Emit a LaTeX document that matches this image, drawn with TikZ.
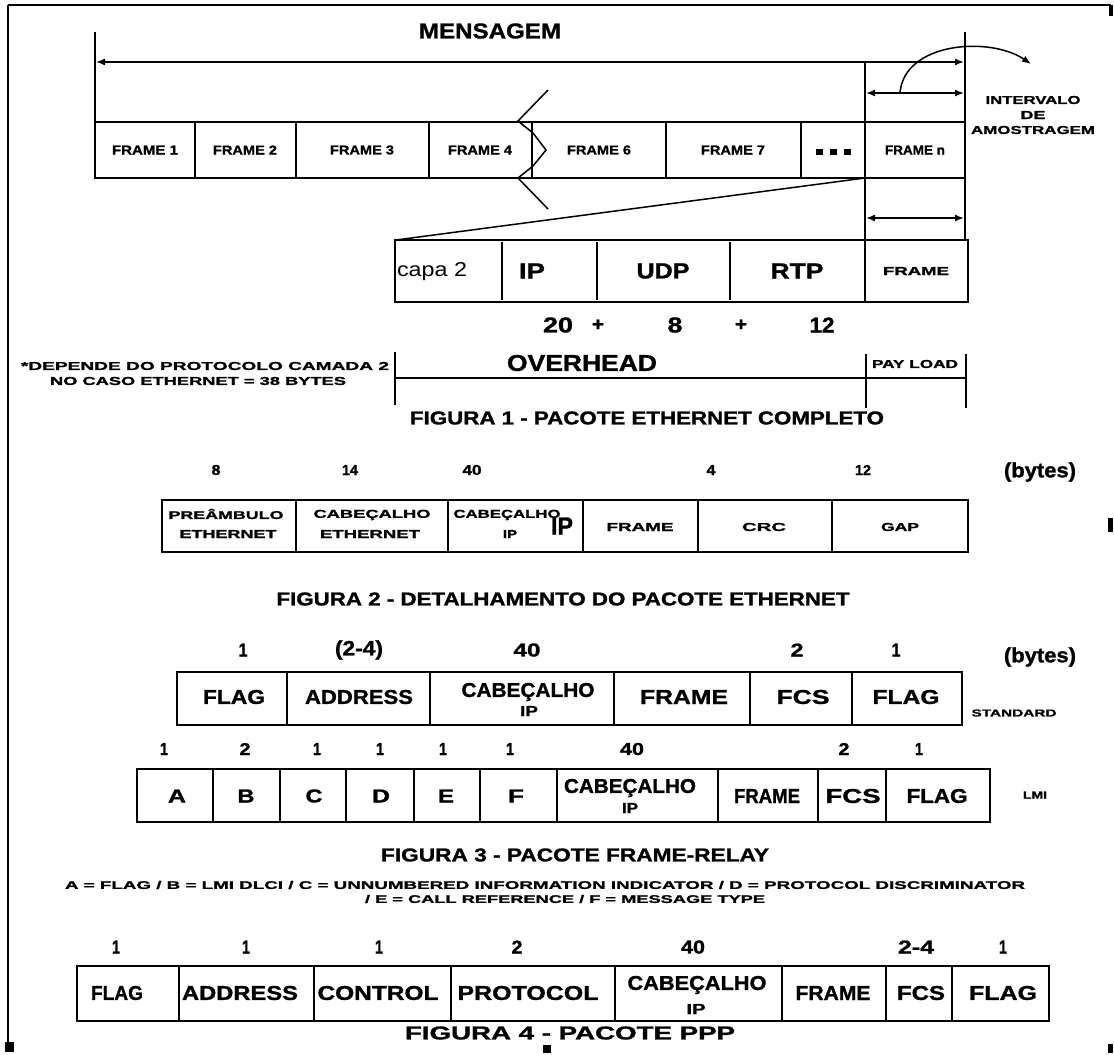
\documentclass[tikz,border=0pt]{standalone}
\usepackage{fontspec}
\setmainfont{Liberation Sans}[BoldFeatures={FakeBold=1.2}]
\usepackage{graphicx}
\usetikzlibrary{arrows.meta}
\newcommand\mylab[3]{\resizebox{#1pt}{#2pt}{\bfseries #3}}
\newcommand\mylabr[3]{\resizebox{#1pt}{#2pt}{#3}}
\begin{document}
\begin{tikzpicture}[x=1pt,y=-1pt,
  bx/.style={line width=2pt},
  ln/.style={line width=1.5pt},
  t/.style={inner sep=0pt,outer sep=0pt,anchor=center},
  arr/.style={line width=1.5pt,{Latex[length=9pt,width=7pt]}-{Latex[length=9pt,width=7pt]}},
  blk/.style={fill=black}]
\useasboundingbox (0,0) rectangle (1114,1055);
% border
\draw[line width=2pt] (8,5) -- (1111,5);
\draw[line width=2.5pt] (8,5) -- (8,1052);
\fill[blk] (1109,5) rectangle (1113,16);
\fill[blk] (1108,518) rectangle (1113,532);
\fill[blk] (5,1042) rectangle (14,1052);
\fill[blk] (543,1045) rectangle (551,1053);
\fill[blk] (1108,1044) rectangle (1113,1053);

% ================= FIGURA 1 =================
\node[t] (msg) at (490,31) {\mylab{142}{15}{MENSAGEM}};
\draw[ln] (95,32) -- (95,178);
\draw[ln] (965,32) -- (965,240);
\draw[bx] (95,122) rectangle (965,178);
\foreach \x in {195,296,429,532,666,801} \draw[bx] (\x,122) -- (\x,178);
\draw[bx] (865,62) -- (865,302);
\coordinate (mL) at (96,62); \coordinate (mR) at (964,62);
\draw[arr] (mL) -- (mR);
\coordinate (iL) at (866,93); \coordinate (iR) at (964,93);
\draw[arr] (iL) -- (iR);
\coordinate (cS) at (900,93); \coordinate (cE) at (1031,64);
\draw[ln,-{Latex[length=9pt,width=7pt]}] (cS) .. controls (904,42) and (990,36) .. (cE);
\draw[ln] (548,90) -- (518,121) -- (533,133) -- (546,150) -- (533,166) -- (518,178) -- (548,209);
\node[t] (f1) at (145,150) {\mylab{66}{9}{FRAME 1}};
\node[t] (f2) at (245,150) {\mylab{64}{9}{FRAME 2}};
\node[t] (f3) at (362,150) {\mylab{64}{9}{FRAME 3}};
\node[t] (f4) at (480,150) {\mylab{64}{9}{FRAME 4}};
\node[t] (f6) at (599,150) {\mylab{64}{9}{FRAME 6}};
\node[t] (f7) at (733,150) {\mylab{64}{9}{FRAME 7}};
\node[t] (fd) at (833,152) {\rule{7pt}{6pt}\hspace{7pt}\rule{7pt}{6pt}\hspace{7pt}\rule{7pt}{6pt}};
\node[t] (fn) at (915,150) {\mylab{60}{9}{FRAME n}};
\node[t] (iv1) at (1033,100) {\mylab{95}{8}{INTERVALO}};
\node[t] (iv2) at (1033,115) {\mylab{25}{8}{DE}};
\node[t] (iv3) at (1033,130) {\mylab{124}{8}{AMOSTRAGEM}};
% expansion
\coordinate (tA) at (865,178); \coordinate (tB) at (396,240);
\draw[ln] (tA) -- (tB);
\draw[bx] (395,240) rectangle (968,302);
\foreach \x in {502,597,730} \draw[bx] (\x,242) -- (\x,300);
\coordinate (jL) at (866,218); \coordinate (jR) at (964,218);
\draw[arr] (jL) -- (jR);
\node[t] (c2) at (432,272) {\mylabr{70}{14}{capa 2}};
\node[t] (ip) at (532,271) {\mylab{26}{15}{IP}};
\node[t] (udp) at (663,271) {\mylab{53}{15}{UDP}};
\node[t] (rtp) at (797,271) {\mylab{53}{15}{RTP}};
\node[t] (frp) at (916,271) {\mylab{66}{8}{FRAME}};
\node[t] (n20) at (558,325) {\mylab{30}{15}{20}};
\node[t] (p1) at (598,325) {\mylab{12}{11}{+}};
\node[t] (n8) at (675,325) {\mylab{15}{15}{8}};
\node[t] (p2) at (741,325) {\mylab{12}{11}{+}};
\node[t] (n12) at (822,325) {\mylab{25}{15}{12}};
% overhead
\draw[ln] (395,352) -- (395,405);
\draw[ln] (395,378) -- (966,378);
\draw[ln] (866,354) -- (866,408);
\draw[ln] (966,354) -- (966,408);
\node[t] (ovh) at (582,363) {\mylab{150}{16}{OVERHEAD}};
\node[t] (pay) at (915,364) {\mylab{86}{8}{PAY LOAD}};
\node[t,anchor=east] (nt1) at (389,366) {\mylab{368}{8}{*DEPENDE DO PROTOCOLO CAMADA 2}};
\node[t] (nt2) at (198,381) {\mylab{296}{8}{NO CASO ETHERNET = 38 BYTES}};
\node[t] (fig1) at (647,418) {\mylab{474}{13}{FIGURA 1 - PACOTE ETHERNET COMPLETO}};

% ================= FIGURA 2 =================
\draw[bx] (162,500) rectangle (968,552);
\foreach \x in {296,448,583,698,832} \draw[bx] (\x,500) -- (\x,552);
\node[t] (b8) at (216,470) {\mylab{9}{10}{8}};
\node[t] (b14) at (350,470) {\mylab{16}{10}{14}};
\node[t] (b40) at (472,470) {\mylab{19}{10}{40}};
\node[t] (b4) at (711,470) {\mylab{9}{10}{4}};
\node[t] (b12) at (863,470) {\mylab{16}{10}{12}};
\node[t] (by2) at (1040,472) {\mylab{72}{15}{(bytes)}};
\node[t] (pr1) at (226,514) {\mylab{115}{10}{PREÂMBULO}};
\node[t] (pr2) at (228,534) {\mylab{97}{8}{ETHERNET}};
\node[t] (ce1) at (372,515) {\mylab{117}{8}{CABEÇALHO}};
\node[t] (ce2) at (370,534) {\mylab{100}{8}{ETHERNET}};
\node[t] (ci1) at (507,515) {\mylab{107}{8}{CABEÇALHO}};
\node[t] (ci2) at (510,534) {\mylab{14}{8}{IP}};
\node[t] (ci3) at (562,526) {\mylab{22}{17}{IP}};
\node[t] (fr2) at (640,527) {\mylab{67}{8}{FRAME}};
\node[t] (crc) at (764,527) {\mylab{44}{8}{CRC}};
\node[t] (gap) at (900,527) {\mylab{38}{8}{GAP}};
\node[t] (fig2) at (563,599) {\mylab{573}{13}{FIGURA 2 - DETALHAMENTO DO PACOTE ETHERNET}};

% ================= FIGURA 3 =================
\draw[bx] (177,672) rectangle (962,725);
\foreach \x in {287,430,614,750,852} \draw[bx] (\x,672) -- (\x,725);
\node[t] (s1) at (243,650) {\mylab{9}{13}{1}};
\node[t] (s2) at (359,650) {\mylab{48}{15}{(2-4)}};
\node[t] (s3) at (527,650) {\mylab{27}{13}{40}};
\node[t] (s4) at (797,650) {\mylab{13}{13}{2}};
\node[t] (s5) at (896,650) {\mylab{9}{13}{1}};
\node[t] (by3) at (1040,657) {\mylab{72}{15}{(bytes)}};
\node[t] (sf1) at (234,697) {\mylab{62}{14}{FLAG}};
\node[t] (sad) at (359,697) {\mylab{108}{14}{ADDRESS}};
\node[t] (sc1) at (528,692) {\mylab{133}{14}{CABEÇALHO}};
\node[t] (sc2) at (529,711) {\mylab{18}{10}{IP}};
\node[t] (sfr) at (684,697) {\mylab{88}{14}{FRAME}};
\node[t] (sfc) at (803,697) {\mylab{53}{14}{FCS}};
\node[t] (sf2) at (906,697) {\mylab{67}{14}{FLAG}};
\node[t] (std) at (1014,713) {\mylab{85}{7}{STANDARD}};
% LMI
\draw[bx] (137,769) rectangle (990,822);
\foreach \x in {213,280,346,414,480,557,718,818,886} \draw[bx] (\x,769) -- (\x,822);
\node[t] (l1) at (164,749) {\mylab{8}{12}{1}};
\node[t] (l2) at (245,749) {\mylab{11}{12}{2}};
\node[t] (l3) at (317,749) {\mylab{8}{12}{1}};
\node[t] (l4) at (380,749) {\mylab{8}{12}{1}};
\node[t] (l5) at (443,749) {\mylab{8}{12}{1}};
\node[t] (l6) at (510,749) {\mylab{8}{12}{1}};
\node[t] (l7) at (632,749) {\mylab{24}{12}{40}};
\node[t] (l8) at (844,749) {\mylab{11}{12}{2}};
\node[t] (l9) at (919,749) {\mylab{8}{12}{1}};
\node[t] (la) at (177,796) {\mylab{18}{13}{A}};
\node[t] (lb) at (246,796) {\mylab{17}{13}{B}};
\node[t] (lc) at (314,796) {\mylab{17}{13}{C}};
\node[t] (ld) at (381,796) {\mylab{18}{13}{D}};
\node[t] (le) at (446,796) {\mylab{16}{13}{E}};
\node[t] (lf) at (516,796) {\mylab{16}{13}{F}};
\node[t] (lc1) at (630,788) {\mylab{132}{14}{CABEÇALHO}};
\node[t] (lc2) at (630,808) {\mylab{16}{10}{IP}};
\node[t] (lfr) at (767,796) {\mylab{66}{14}{FRAME}};
\node[t] (lfc) at (853,796) {\mylab{55}{14}{FCS}};
\node[t] (lfl) at (937,796) {\mylab{61}{14}{FLAG}};
\node[t] (lmi) at (1035,795) {\mylab{24}{7}{LMI}};
\node[t] (fig3) at (575,855) {\mylab{388}{13}{FIGURA 3 - PACOTE FRAME-RELAY}};
\node[t] (lg1) at (545,885) {\mylab{960}{8}{A = FLAG / B = LMI DLCI / C = UNNUMBERED INFORMATION INDICATOR / D = PROTOCOL DISCRIMINATOR}};
\node[t] (lg2) at (565,899) {\mylab{400}{8}{/ E = CALL REFERENCE / F = MESSAGE TYPE}};

% ================= FIGURA 4 =================
\draw[bx] (77,966) rectangle (1049,1021);
\foreach \x in {179,314,451,615,782,886,952} \draw[bx] (\x,966) -- (\x,1021);
\node[t] (p1n) at (116,947) {\mylab{8}{13}{1}};
\node[t] (p2n) at (246,947) {\mylab{8}{13}{1}};
\node[t] (p3n) at (379,947) {\mylab{8}{13}{1}};
\node[t] (p4n) at (517,947) {\mylab{11}{13}{2}};
\node[t] (p5n) at (693,947) {\mylab{24}{13}{40}};
\node[t] (p6n) at (916,947) {\mylab{36}{13}{2-4}};
\node[t] (p7n) at (1003,947) {\mylab{8}{13}{1}};
\node[t] (pfl) at (117,993) {\mylab{52}{14}{FLAG}};
\node[t] (pad) at (240,993) {\mylab{116}{14}{ADDRESS}};
\node[t] (pct) at (378,993) {\mylab{121}{14}{CONTROL}};
\node[t] (ppr) at (528,993) {\mylab{141}{14}{PROTOCOL}};
\node[t] (pc1) at (697,985) {\mylab{139}{14}{CABEÇALHO}};
\node[t] (pc2) at (696,1009) {\mylab{19}{10}{IP}};
\node[t] (pfr) at (833,993) {\mylab{75}{14}{FRAME}};
\node[t] (pfc) at (921,993) {\mylab{48}{14}{FCS}};
\node[t] (pf2) at (1003,993) {\mylab{68}{14}{FLAG}};
\node[t] (fig4) at (570,1033) {\mylab{330}{13}{FIGURA 4 - PACOTE PPP}};
\end{tikzpicture}
\end{document}
